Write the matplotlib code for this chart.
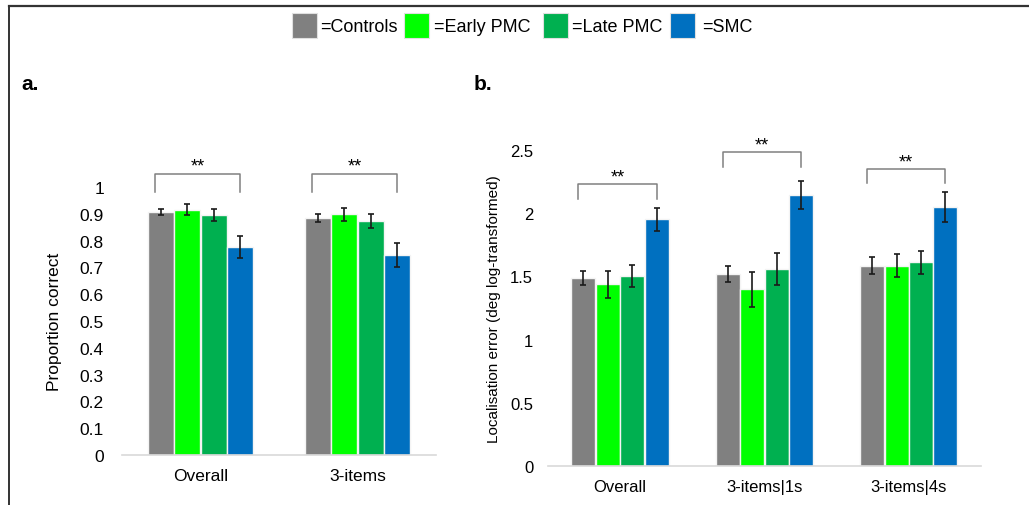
import matplotlib.pyplot as plt
import numpy as np
from matplotlib.lines import Line2D
from matplotlib.patches import Rectangle

plt.rcParams['font.family'] = ['Liberation Sans', 'DejaVu Sans']

# groups / series
groups = ['Controls', 'Early PMC', 'Late PMC', 'SMC']
colors = ['#808080', '#00ff00', '#00b050', '#0070c0']

# panel a: proportion correct
cats_a = ['Overall', '3-items']
vals_a = [[0.906, 0.886],
          [0.916, 0.898],
          [0.896, 0.872],
          [0.777, 0.747]]
err_a = [[0.011, 0.015],
         [0.021, 0.024],
         [0.021, 0.026],
         [0.040, 0.045]]
sig_a = [1.047, 1.047]

# panel b: localisation error
cats_b = ['Overall', '3-items|1s', '3-items|4s']
vals_b = [[1.484, 1.516, 1.584],
          [1.437, 1.397, 1.584],
          [1.503, 1.558, 1.610],
          [1.950, 2.145, 2.047]]
err_b = [[0.055, 0.063, 0.068],
         [0.105, 0.140, 0.092],
         [0.090, 0.128, 0.088],
         [0.093, 0.110, 0.120]]
sig_b = [2.226, 2.480, 2.350]

W, H = 1029, 506
fig = plt.figure(figsize=(W / 100, H / 100), dpi=100)

ax_a = fig.add_axes([0.1186, 0.0988, 0.3052, 0.5296])
ax_b = fig.add_axes([0.5323, 0.0765, 0.4211, 0.6257])

pitch = 0.169
width = 0.166


def draw_panel(ax, cats, vals, errs, sig, leg, star_gap, fs_tick, fs_cat, pad_y):
    x = np.arange(len(cats))
    for i in range(len(groups)):
        pos = x + (i - 1.5) * pitch
        ax.bar(pos, vals[i], width, color=colors[i], edgecolor='#f4f4f4', linewidth=1.0, zorder=2)
        ax.errorbar(pos, vals[i], yerr=errs[i], fmt='none', ecolor='#1a1a1a',
                    elinewidth=1.2, capsize=2.5, capthick=1.2, zorder=3)
    for j in range(len(cats)):
        x0 = x[j] - 1.5 * pitch - 0.035
        x1 = x[j] + 1.5 * pitch
        ax.plot([x0, x0, x1, x1], [sig[j] - leg, sig[j], sig[j], sig[j] - leg],
                color='#808080', lw=1.1, clip_on=False)
        ax.text((x0 + x1) / 2, sig[j] + star_gap, '**', ha='center', va='center',
                fontsize=13, clip_on=False)
    ax.set_xlim(-0.5, len(cats) - 0.5)
    ax.set_xticks(x)
    ax.set_xticklabels(cats, fontsize=fs_cat)
    for s in ['top', 'right', 'left']:
        ax.spines[s].set_visible(False)
    ax.spines['bottom'].set_color('#d9d9d9')
    ax.spines['bottom'].set_linewidth(1.2)
    ax.tick_params(axis='x', length=0, pad=9)
    ax.tick_params(axis='y', length=0, pad=pad_y, labelsize=fs_tick)


draw_panel(ax_a, cats_a, vals_a, err_a, sig_a, 0.065, 0.03, 12.5, 12.5, 13)
ax_a.set_ylim(0, 1)
ax_a.set_yticks(np.arange(0, 1.01, 0.1))
ax_a.set_yticklabels(['0', '0.1', '0.2', '0.3', '0.4', '0.5', '0.6', '0.7', '0.8', '0.9', '1'])
ax_a.set_ylabel('Proportion correct', fontsize=12.5)
ax_a.yaxis.set_label_coords(-0.19, 0.5)

draw_panel(ax_b, cats_b, vals_b, err_b, sig_b, 0.115, 0.055, 12, 12, 10.5)
ax_b.set_ylim(0, 2.5)
ax_b.set_yticks([0, 0.5, 1, 1.5, 2, 2.5])
ax_b.set_yticklabels(['0', '0.5', '1', '1.5', '2', '2.5'])
ax_b.set_ylabel('Localisation error (deg log-transformed)', fontsize=11)
ax_b.yaxis.set_label_coords(-0.107, 0.5)

# panel letters
fig.text(0.021, 0.833, 'a.', fontsize=15, fontweight='bold', va='center')
fig.text(0.460, 0.833, 'b.', fontsize=15, fontweight='bold', va='center')

# legend on top (squares + labels)
sq_x = [292, 404, 543, 670]
txt_x = [320, 434, 572, 702]
for i in range(len(groups)):
    fig.add_artist(Rectangle((sq_x[i] / W, 1 - 39 / H), 25 / W, 25 / H,
                             facecolor=colors[i], edgecolor='#e0e0e0', lw=0.8,
                             transform=fig.transFigure))
    fig.text(txt_x[i] / W, 1 - 27 / H, '=' + groups[i], fontsize=13, va='center')

# frame lines (top and left)
fig.add_artist(Line2D([0.0087, 1.0], [0.9856, 0.9856], color='#333333', lw=1.6))
fig.add_artist(Line2D([0.0087, 0.0087], [0.0, 0.9856], color='#333333', lw=1.4))

plt.savefig('out.png', dpi=100)
